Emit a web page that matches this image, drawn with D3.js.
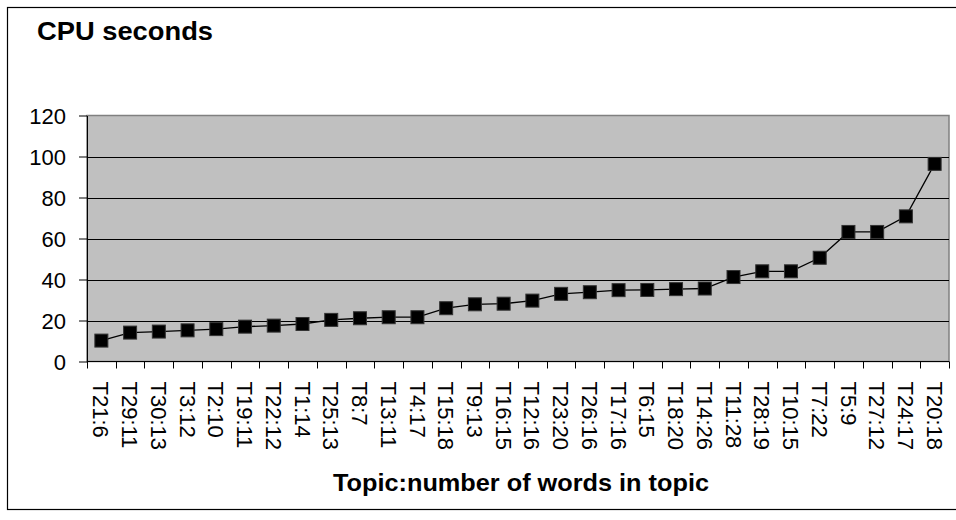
<!DOCTYPE html>
<html>
<head>
<meta charset="utf-8">
<script src="https://cdn.jsdelivr.net/npm/d3@7"></script>
<style>
  html, body { margin: 0; padding: 0; background: #fff; }
  text { font-family: "Liberation Sans", Arial, sans-serif; fill: #000; }
</style>
</head>
<body>
<svg id="chart" width="956" height="520"></svg>
<script>
// Topics (id:number of words), ordered by CPU time
const topics = ["T21:6", "T29:11", "T30:13", "T3:12", "T2:10", "T19:11", "T22:12", "T1:14",
  "T25:13", "T8:7", "T13:11", "T4:17", "T15:18", "T9:13", "T16:15", "T12:16", "T23:20",
  "T26:16", "T17:16", "T6:15", "T18:20", "T14:26", "T11:28", "T28:19", "T10:15", "T7:22",
  "T5:9", "T27:12", "T24:17", "T20:18"];
const cpuSeconds = [10.2, 14.1, 14.6, 15.2, 15.8, 17.0, 17.5, 18.3, 20.3, 21.1, 21.6, 21.6,
  26.0, 27.9, 28.2, 29.7, 33.0, 33.8, 34.8, 34.9, 35.3, 35.6, 41.2, 44.0, 44.0, 50.6,
  63.2, 63.2, 70.8, 96.4];
const yTicks = [0, 20, 40, 60, 80, 100, 120];

const svg = d3.select("#chart");
const plot = { left: 87, right: 949, top: 115.5, bottom: 361.5 };

// Outer chart frame
svg.append("rect")
  .attr("x", 7.5).attr("y", 7.5).attr("width", 960).attr("height", 502)
  .attr("fill", "#fff").attr("stroke", "#000").attr("stroke-width", 1.2);

const x = d3.scaleBand().domain(topics).range([plot.left, plot.right]);
const y = d3.scaleLinear().domain([0, 120]).range([plot.bottom, plot.top]);

// Plot area background
svg.append("rect")
  .attr("x", plot.left).attr("y", plot.top)
  .attr("width", plot.right - plot.left).attr("height", plot.bottom - plot.top)
  .attr("fill", "#c0c0c0").attr("stroke", "#808080").attr("stroke-width", 1.5);

// Horizontal gridlines
svg.append("g").selectAll("line")
  .data(yTicks.filter(d => d > 0 && d < 120))
  .join("line")
  .attr("x1", plot.left).attr("x2", plot.right)
  .attr("y1", d => Math.round(y(d)) + 0.5).attr("y2", d => Math.round(y(d)) + 0.5)
  .attr("stroke", "#000").attr("stroke-width", 1);

// Y axis
const yAxis = svg.append("g")
  .attr("transform", `translate(${plot.left},0)`)
  .call(d3.axisLeft(y).tickValues(yTicks).tickSize(8).tickPadding(13).tickSizeOuter(0));
yAxis.select(".domain").attr("stroke", "#000");
yAxis.selectAll(".tick line").attr("stroke", "#000");
yAxis.selectAll(".tick text")
  .style("font-size", "22px").style("font-family", "Liberation Sans, Arial, sans-serif")
  .attr("dy", "0.36em");

// X axis with ticks between categories
const xAxis = svg.append("g")
  .attr("transform", `translate(0,${plot.bottom})`);
xAxis.append("line")
  .attr("x1", plot.left).attr("x2", plot.right).attr("y1", 0).attr("y2", 0)
  .attr("stroke", "#000");
xAxis.selectAll("line.tick")
  .data(topics.concat(["_end"]))
  .join("line").attr("class", "tick")
  .attr("x1", (d, i) => Math.round(plot.left + i * x.step()) + 0.5)
  .attr("x2", (d, i) => Math.round(plot.left + i * x.step()) + 0.5)
  .attr("y1", 0).attr("y2", 7)
  .attr("stroke", "#000");
xAxis.selectAll("text")
  .data(topics)
  .join("text")
  .attr("transform", d => `translate(${x(d) + x.bandwidth() / 2},20) rotate(90)`)
  .attr("dy", "0.36em")
  .attr("text-anchor", "start")
  .style("font-size", "22px")
  .text(d => d);

// Line and square markers
const cx = d => x(d) + x.bandwidth() / 2;
svg.append("path")
  .datum(topics.map((t, i) => [cx(t), y(cpuSeconds[i])]))
  .attr("fill", "none").attr("stroke", "#000").attr("stroke-width", 1.3)
  .attr("d", d3.line());

const m = 13;
svg.append("g").selectAll("rect")
  .data(topics)
  .join("rect")
  .attr("x", d => cx(d) - m / 2)
  .attr("y", (d, i) => y(cpuSeconds[i]) - m / 2)
  .attr("width", m).attr("height", m)
  .attr("fill", "#000").attr("stroke", "#333").attr("stroke-width", 1);

// Titles
svg.append("text")
  .attr("x", 37).attr("y", 40)
  .attr("textLength", 176).attr("lengthAdjust", "spacingAndGlyphs")
  .style("font-size", "25px").style("font-weight", "bold")
  .text("CPU seconds");

svg.append("text")
  .attr("x", 333).attr("y", 491)
  .attr("textLength", 376).attr("lengthAdjust", "spacingAndGlyphs")
  .style("font-size", "24px").style("font-weight", "bold")
  .text("Topic:number of words in topic");
</script>
</body>
</html>
